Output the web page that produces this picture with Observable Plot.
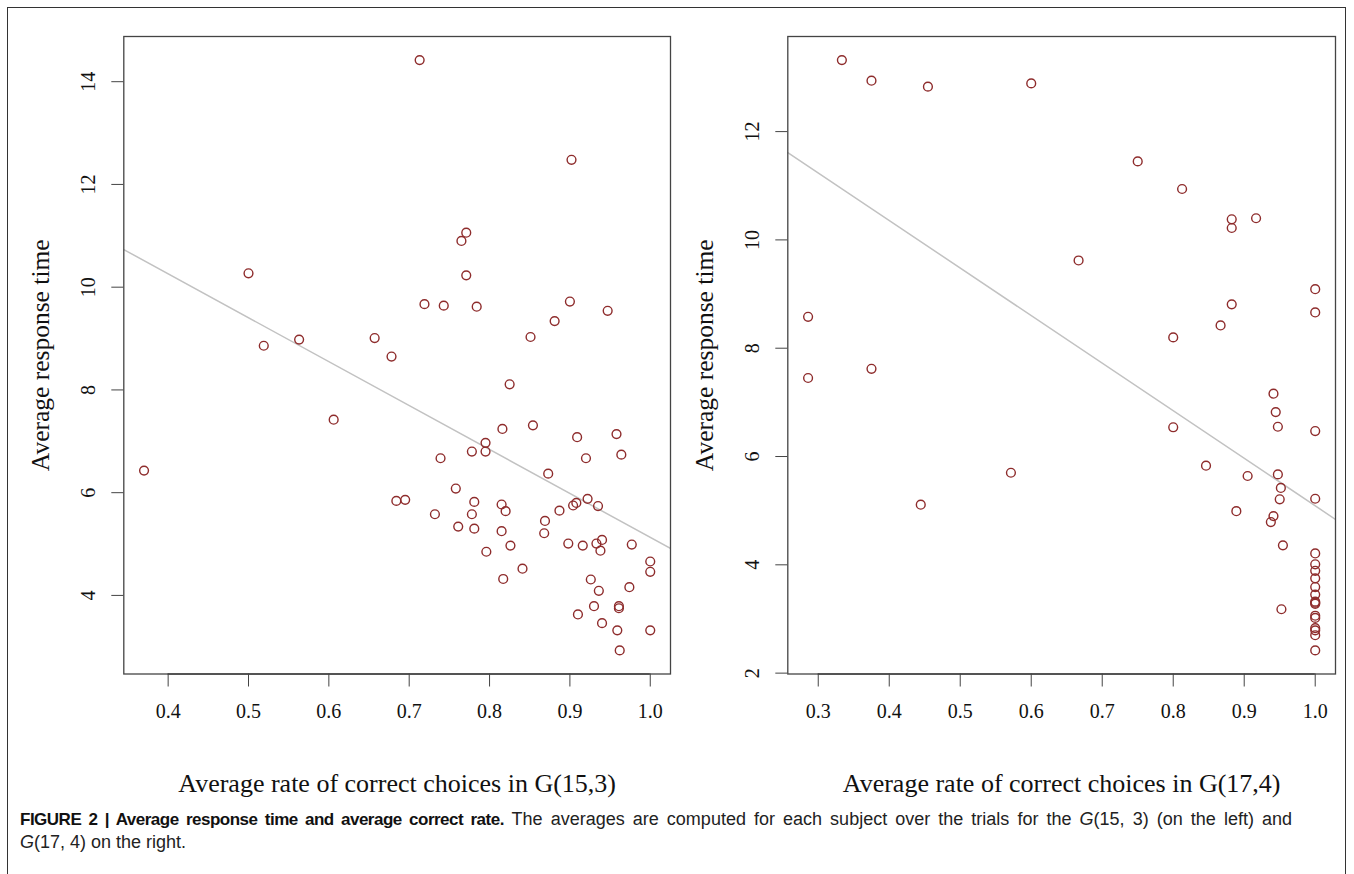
<!DOCTYPE html>
<html>
<head>
<meta charset="utf-8">
<script src="https://cdn.jsdelivr.net/npm/d3@7"></script>
<script src="https://cdn.jsdelivr.net/npm/@observablehq/plot@0.6"></script>
<style>
  html, body { margin: 0; padding: 0; background: #fff; }
  #page { position: relative; width: 1354px; height: 874px; overflow: hidden; background: #fff; }
  #border { position: absolute; left: 7px; top: 7px; width: 1337px; height: 900px; border: 1.5px solid #333; }
  .panel { position: absolute; top: 0; }
  #caption { position: absolute; left: 20px; top: 808px; width: 1272px; font-family: "Liberation Sans", Arial, sans-serif; font-size: 18px; line-height: 22px; color: #222; }
  #caption .l1 { text-align: justify; text-align-last: justify; white-space: nowrap; }
  #caption b { color: #111; letter-spacing: -0.5px; font-size: 17px; }
</style>
</head>
<body>
<div id="page">
  <div id="border"></div>
  <div id="left" class="panel" style="left:0px"></div>
  <div id="right" class="panel" style="left:680px"></div>
  <div id="caption"><div class="l1"><b>FIGURE 2 | Average response time and average correct rate.</b> The averages are computed for each subject over the trials for the <i>G</i>(15, 3) (on the left) and</div><div><i>G</i>(17, 4) on the right.</div></div>
</div>
<script>
// ---- Data: G(15,3) panel ----
const g153Rate = [0.37, 0.50, 0.519, 0.563, 0.606, 0.657, 0.678, 0.684, 0.695, 0.713, 0.719, 0.732, 0.739, 0.743, 0.758, 0.761, 0.765, 0.771, 0.771, 0.778, 0.778, 0.781, 0.781, 0.784, 0.795, 0.795, 0.796, 0.815, 0.816, 0.815, 0.817, 0.820, 0.825, 0.826, 0.841, 0.851, 0.854, 0.868, 0.869, 0.873, 0.881, 0.887, 0.898, 0.900, 0.902, 0.904, 0.908, 0.909, 0.910, 0.916, 0.920, 0.922, 0.926, 0.930, 0.933, 0.935, 0.936, 0.938, 0.940, 0.940, 0.947, 0.958, 0.959, 0.961, 0.961, 0.962, 0.964, 0.974, 0.977, 1.0, 1.0, 1.0];
const g153Time = [6.43, 10.27, 8.86, 8.98, 7.42, 9.01, 8.65, 5.84, 5.86, 14.42, 9.67, 5.58, 6.67, 9.64, 6.08, 5.34, 10.90, 11.06, 10.23, 6.80, 5.58, 5.82, 5.30, 9.62, 6.97, 6.80, 4.85, 5.77, 7.24, 5.25, 4.32, 5.64, 8.11, 4.97, 4.52, 9.03, 7.31, 5.21, 5.45, 6.37, 9.34, 5.65, 5.01, 9.72, 12.48, 5.75, 5.80, 7.08, 3.63, 4.97, 6.67, 5.88, 4.31, 3.79, 5.01, 5.74, 4.09, 4.87, 3.46, 5.08, 9.54, 7.14, 3.32, 3.79, 3.75, 2.93, 6.74, 4.16, 4.99, 4.66, 4.46, 3.32];
const g153XTicks = [0.4, 0.5, 0.6, 0.7, 0.8, 0.9, 1.0];
const g153YTicks = [4, 6, 8, 10, 12, 14];
const g153Fit = [13.68, -8.55]; // intercept, slope

// ---- Data: G(17,4) panel ----
const g174Rate = [0.2857, 0.2857, 0.3333, 0.375, 0.375, 0.4444, 0.4545, 0.5714, 0.6, 0.6667, 0.75, 0.8, 0.8, 0.8125, 0.8462, 0.8667, 0.8824, 0.8824, 0.8824, 0.8889, 0.9048, 0.9167, 0.9375, 0.9412, 0.9412, 0.9444, 0.9474, 0.9474, 0.9516, 0.95, 0.9524, 0.9545, 1, 1, 1, 1, 1, 1, 1, 1, 1, 1, 1, 1, 1, 1, 1, 1, 1, 1, 1];
const g174Time = [8.58, 7.45, 13.32, 12.94, 7.62, 5.11, 12.83, 5.70, 12.89, 9.62, 11.45, 8.20, 6.54, 10.94, 5.83, 8.42, 10.38, 10.22, 8.81, 4.99, 5.64, 10.40, 4.79, 4.90, 7.16, 6.82, 6.55, 5.67, 5.42, 5.21, 3.18, 4.36, 9.09, 8.66, 6.47, 5.22, 4.21, 4.01, 3.89, 3.75, 3.59, 3.45, 3.32, 3.30, 3.28, 3.06, 3.02, 2.83, 2.79, 2.70, 2.42];
const g174XTicks = [0.3, 0.4, 0.5, 0.6, 0.7, 0.8, 0.9, 1.0];
const g174YTicks = [2, 4, 6, 8, 10, 12];
const g174Fit = [13.87, -8.78];

const xTitles = ["Average rate of correct choices in G(15,3)", "Average rate of correct choices in G(17,4)"];
const yTitle = "Average response time";

// R-style 4% extended range
function rRange(v) {
  const [a, b] = d3.extent(v);
  const e = (b - a) * 0.04;
  return [a - e, b + e];
}

const serif = "'Liberation Serif', 'Times New Roman', serif";

function panel({rate, time, xTicks, yTicks, fit, xTitle, width, marginLeft, marginRight}) {
  const xd = rRange(rate), yd = rRange(time);
  const fitLine = xd.map(x => ({x, y: fit[0] + fit[1] * x}));
  return Plot.plot({
    width, height: 800,
    marginLeft, marginRight, marginTop: 36, marginBottom: 126.5,
    style: {fontFamily: serif, fontSize: "20px", color: "#111", background: "transparent"},
    x: {domain: xd},
    y: {domain: yd},
    marks: [
      Plot.line(fitLine, {x: "x", y: "y", stroke: "#c2c2c2", strokeWidth: 1.5, clip: true}),
      Plot.dot(rate, {x: rate, y: time, r: 4.4, stroke: "#8e2c2c", strokeWidth: 1.4, fill: "none"}),
      Plot.frame({stroke: "#444", strokeWidth: 1.3}),
      Plot.axisX({ticks: xTicks, tickSize: 13, tickPadding: 17, tickFormat: d3.format(".1f"), label: null, fontSize: 20, stroke: "#444"}),
      Plot.ruleY([yd[0]], {x1: xTicks[0], x2: xTicks[xTicks.length - 1], stroke: "#444", strokeWidth: 1.3}),
      Plot.axisY({ticks: yTicks, tickSize: 12, tickFormat: () => "", label: null, stroke: "#444"}),
      Plot.text(yTicks, {y: d => d, text: d => String(d), frameAnchor: "left", dx: -35, rotate: -90, textAnchor: "middle", lineAnchor: "middle", fontSize: 20, fill: "#111"}),
      Plot.text([yTitle], {frameAnchor: "left", dx: -83, rotate: -90, textAnchor: "middle", lineAnchor: "middle", fontSize: 25.5, fill: "#111"}),
      Plot.text([xTitle], {frameAnchor: "bottom", dy: 109.5, textAnchor: "middle", lineAnchor: "middle", fontSize: 26, fill: "#111"})
    ]
  });
}

document.getElementById("left").append(panel({
  rate: g153Rate, time: g153Time, xTicks: g153XTicks, yTicks: g153YTicks, fit: g153Fit,
  xTitle: xTitles[0], width: 680, marginLeft: 123.3, marginRight: 10
}));
document.getElementById("right").append(panel({
  rate: g174Rate, time: g174Time, xTicks: g174XTicks, yTicks: g174YTicks, fit: g174Fit,
  xTitle: xTitles[1], width: 674, marginLeft: 107.3, marginRight: 19
}));
</script>
</body>
</html>
